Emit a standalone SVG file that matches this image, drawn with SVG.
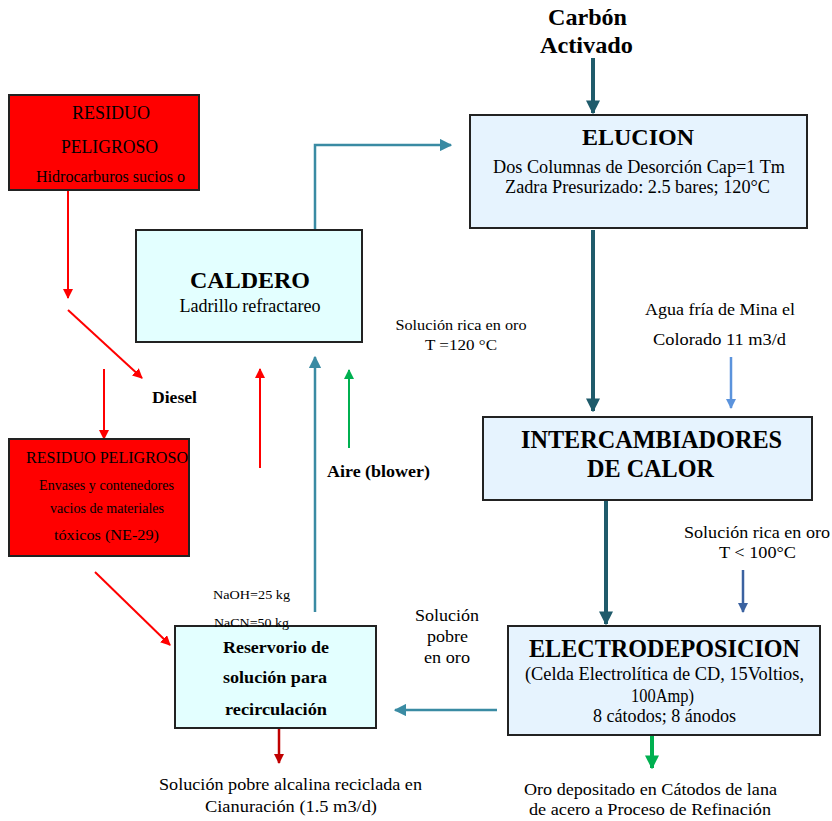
<svg xmlns="http://www.w3.org/2000/svg" width="832" height="821" viewBox="0 0 832 821" font-family="'Liberation Serif', 'DejaVu Serif', serif">
<style>
text{font-family:'Liberation Serif','DejaVu Serif',serif;fill:#000;text-anchor:middle}
.b{font-weight:bold}
.box{stroke:#222;stroke-width:2}
.red{fill:#ff0000}
.cyan{fill:#e3ffff}
.blue{fill:#e6f3fe}
</style>
<defs>
<marker id="hr" viewBox="0 0 10 10" refX="9" refY="5" markerWidth="5" markerHeight="5" orient="auto" markerUnits="strokeWidth"><path d="M0,0L10,5L0,10z" fill="#ff0000"/></marker>
<marker id="hdr" viewBox="0 0 10 10" refX="9" refY="5" markerWidth="4" markerHeight="4" orient="auto" markerUnits="strokeWidth"><path d="M0,0L10,5L0,10z" fill="#c00000"/></marker>
<marker id="ht" viewBox="0 0 10 10" refX="9" refY="5" markerWidth="5" markerHeight="5" orient="auto" markerUnits="strokeWidth"><path d="M0,0L10,5L0,10z" fill="#3a8ba3"/></marker>
<marker id="hd" viewBox="0 0 10 10" refX="9" refY="5" markerWidth="3.5" markerHeight="3.5" orient="auto" markerUnits="strokeWidth"><path d="M0,0L10,5L0,10z" fill="#1f5b6b"/></marker>
<marker id="hg" viewBox="0 0 10 10" refX="9" refY="5" markerWidth="5" markerHeight="5" orient="auto" markerUnits="strokeWidth"><path d="M0,0L10,5L0,10z" fill="#00b050"/></marker>
<marker id="hgg" viewBox="0 0 10 10" refX="9" refY="5" markerWidth="3.5" markerHeight="3.5" orient="auto" markerUnits="strokeWidth"><path d="M0,0L10,5L0,10z" fill="#00b050"/></marker>
<marker id="hb" viewBox="0 0 10 10" refX="9" refY="5" markerWidth="4" markerHeight="4" orient="auto" markerUnits="strokeWidth"><path d="M0,0L10,5L0,10z" fill="#5b93dc"/></marker>
<marker id="hdb" viewBox="0 0 10 10" refX="9" refY="5" markerWidth="4" markerHeight="4" orient="auto" markerUnits="strokeWidth"><path d="M0,0L10,5L0,10z" fill="#3b62a0"/></marker>
</defs>
<g id="connectors" fill="none">
<line x1="68" y1="190" x2="68" y2="298" stroke="#ff0000" stroke-width="2" marker-end="url(#hr)"/>
<line x1="68" y1="310" x2="142" y2="378" stroke="#ff0000" stroke-width="2" marker-end="url(#hr)"/>
<line x1="104" y1="369" x2="104" y2="439" stroke="#ff0000" stroke-width="2" marker-end="url(#hr)"/>
<line x1="95" y1="572" x2="170" y2="645" stroke="#ff0000" stroke-width="2" marker-end="url(#hr)"/>
<polyline points="315,230 315,145 451,145" stroke="#3a8ba3" stroke-width="2.5" marker-end="url(#ht)"/>
<line x1="593" y1="58" x2="593" y2="113" stroke="#1f5b6b" stroke-width="4" marker-end="url(#hd)"/>
<line x1="593" y1="230" x2="593" y2="411" stroke="#1f5b6b" stroke-width="4" marker-end="url(#hd)"/>
<line x1="731" y1="357" x2="731" y2="408" stroke="#5b93dc" stroke-width="2.5" marker-end="url(#hb)"/>
<line x1="606" y1="500" x2="606" y2="624" stroke="#1f5b6b" stroke-width="4" marker-end="url(#hd)"/>
<line x1="743" y1="570" x2="743" y2="612" stroke="#3b62a0" stroke-width="2.5" marker-end="url(#hdb)"/>
<line x1="652" y1="736" x2="652" y2="768" stroke="#00b050" stroke-width="4" marker-end="url(#hgg)"/>
<line x1="497" y1="710" x2="395" y2="710" stroke="#3a8ba3" stroke-width="2.5" marker-end="url(#ht)"/>
<line x1="315" y1="612" x2="315" y2="357" stroke="#3a8ba3" stroke-width="2.5" marker-end="url(#ht)"/>
<line x1="260" y1="468" x2="260" y2="369" stroke="#ff0000" stroke-width="2" marker-end="url(#hr)"/>
<line x1="349" y1="448" x2="349" y2="370" stroke="#00b050" stroke-width="2" marker-end="url(#hg)"/>
<line x1="279" y1="728" x2="279" y2="763" stroke="#c00000" stroke-width="2.5" marker-end="url(#hdr)"/>
</g>
<g id="residuo1">
<rect class="box red" x="9" y="95" width="190" height="95"/>
<text x="111" y="119" font-size="18" textLength="78" lengthAdjust="spacingAndGlyphs">RESIDUO</text>
<text x="109.5" y="153" font-size="18" textLength="97" lengthAdjust="spacingAndGlyphs">PELIGROSO</text>
<text x="110.5" y="182" font-size="16" textLength="149" lengthAdjust="spacingAndGlyphs">Hidrocarburos sucios o</text>
</g>
<g id="residuo2">
<rect class="box red" x="9" y="439" width="180" height="117"/>
<text x="107" y="463" font-size="16" textLength="162" lengthAdjust="spacingAndGlyphs">RESIDUO PELIGROSO</text>
<text x="106.5" y="490" font-size="14.5" textLength="135" lengthAdjust="spacingAndGlyphs">Envases y contenedores</text>
<text x="107" y="513" font-size="14.5" textLength="114" lengthAdjust="spacingAndGlyphs">vacios de materiales</text>
<text x="106.5" y="540" font-size="14.5" textLength="105" lengthAdjust="spacingAndGlyphs">tóxicos (NE-29)</text>
</g>
<g id="caldero">
<rect class="box cyan" x="136" y="230" width="226" height="112"/>
<text class="b" x="250" y="288" font-size="24" textLength="120" lengthAdjust="spacingAndGlyphs">CALDERO</text>
<text x="250" y="312" font-size="18" textLength="141" lengthAdjust="spacingAndGlyphs">Ladrillo refractareo</text>
</g>
<g id="elucion">
<rect class="box blue" x="470" y="115" width="337" height="113"/>
<text class="b" x="638" y="145" font-size="24" textLength="112" lengthAdjust="spacingAndGlyphs">ELUCION</text>
<text x="639" y="173" font-size="18" textLength="292" lengthAdjust="spacingAndGlyphs">Dos Columnas de Desorción Cap=1 Tm</text>
<text x="637.5" y="193" font-size="18" textLength="265" lengthAdjust="spacingAndGlyphs">Zadra Presurizado: 2.5 bares; 120°C</text>
</g>
<g id="intercambiadores">
<rect class="box blue" x="483" y="417" width="329" height="83"/>
<text class="b" x="651.5" y="448" font-size="25" textLength="261" lengthAdjust="spacingAndGlyphs">INTERCAMBIADORES</text>
<text class="b" x="650.5" y="477" font-size="25" textLength="127" lengthAdjust="spacingAndGlyphs">DE CALOR</text>
</g>
<g id="electrodeposicion">
<rect class="box blue" x="508" y="626" width="312" height="109"/>
<text class="b" x="664.5" y="657" font-size="25" textLength="271" lengthAdjust="spacingAndGlyphs">ELECTRODEPOSICION</text>
<text x="664.5" y="680" font-size="18" textLength="279" lengthAdjust="spacingAndGlyphs">(Celda Electrolítica de CD, 15Voltios,</text>
<text x="662.5" y="702" font-size="18" textLength="63" lengthAdjust="spacingAndGlyphs">100Amp)</text>
<text x="664.5" y="722" font-size="18" textLength="143" lengthAdjust="spacingAndGlyphs">8 cátodos; 8 ánodos</text>
</g>
<g id="reservorio">
<rect class="box cyan" x="175" y="626" width="201" height="102"/>
<text class="b" x="276" y="653" font-size="16.5" textLength="106" lengthAdjust="spacingAndGlyphs">Reservorio de</text>
<text class="b" x="275" y="683" font-size="16.5" textLength="104" lengthAdjust="spacingAndGlyphs">solución para</text>
<text class="b" x="276" y="715" font-size="16.5" textLength="102" lengthAdjust="spacingAndGlyphs">recirculación</text>
</g>
<g id="labels">
<text class="b" x="587.5" y="25" font-size="24" textLength="79" lengthAdjust="spacingAndGlyphs">Carbón</text>
<text class="b" x="586.5" y="53" font-size="24" textLength="93" lengthAdjust="spacingAndGlyphs">Activado</text>
<text class="b" x="174.5" y="403" font-size="17" textLength="45" lengthAdjust="spacingAndGlyphs">Diesel</text>
<text x="461" y="330" font-size="15" textLength="131" lengthAdjust="spacingAndGlyphs">Solución rica en oro</text>
<text x="461" y="350" font-size="15" textLength="72" lengthAdjust="spacingAndGlyphs">T =120 °C</text>
<text x="720" y="315" font-size="16.5" textLength="150" lengthAdjust="spacingAndGlyphs">Agua fría de Mina el</text>
<text x="719.5" y="345" font-size="16.5" textLength="133" lengthAdjust="spacingAndGlyphs">Colorado 11 m3/d</text>
<text x="757" y="538" font-size="16.5" textLength="146" lengthAdjust="spacingAndGlyphs">Solución rica en oro</text>
<text x="757.5" y="558" font-size="16.5" textLength="77" lengthAdjust="spacingAndGlyphs">T &lt; 100°C</text>
<text x="447" y="621" font-size="16.5" textLength="64" lengthAdjust="spacingAndGlyphs">Solución</text>
<text x="447.5" y="642" font-size="16.5" textLength="41" lengthAdjust="spacingAndGlyphs">pobre</text>
<text x="447" y="663" font-size="16.5" textLength="46" lengthAdjust="spacingAndGlyphs">en oro</text>
<text x="251.5" y="599" font-size="13.5" textLength="77" lengthAdjust="spacingAndGlyphs">NaOH=25 kg</text>
<text x="251.5" y="627" font-size="13.5" textLength="75" lengthAdjust="spacingAndGlyphs">NaCN=50 kg</text>
<text class="b" x="378.5" y="477" font-size="17" textLength="103" lengthAdjust="spacingAndGlyphs">Aire (blower)</text>
<text x="290.5" y="790" font-size="17" textLength="263" lengthAdjust="spacingAndGlyphs">Solución pobre alcalina reciclada en</text>
<text x="291" y="812" font-size="17" textLength="172" lengthAdjust="spacingAndGlyphs">Cianuración (1.5 m3/d)</text>
<text x="650.5" y="795" font-size="17" textLength="253" lengthAdjust="spacingAndGlyphs">Oro depositado en Cátodos de lana</text>
<text x="650" y="815" font-size="17" textLength="242" lengthAdjust="spacingAndGlyphs">de acero a Proceso de Refinación</text>
</g>
</svg>
